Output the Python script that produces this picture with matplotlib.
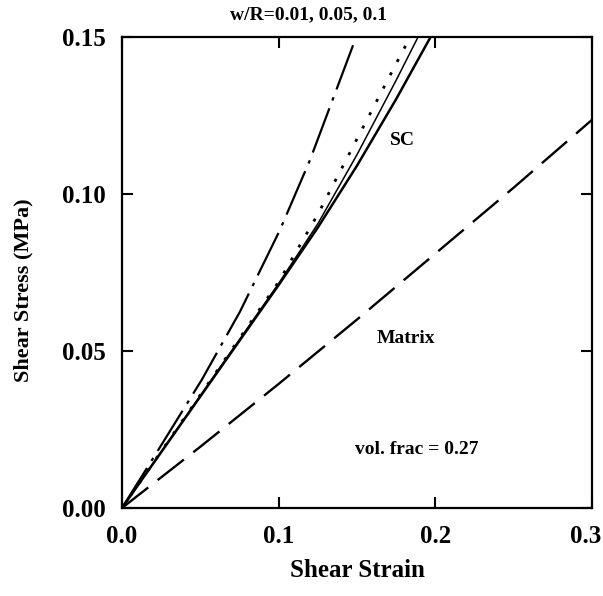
import matplotlib
matplotlib.use("Agg")
import matplotlib.pyplot as plt
from matplotlib.transforms import ScaledTranslation

plt.rcParams['font.family'] = ['Liberation Serif', 'DejaVu Serif']
plt.rcParams['font.weight'] = 'bold'
plt.rcParams['lines.scale_dashes'] = False

# ---- data ----
dashdot_x = [0, 0.0232, 0.0509, 0.0753, 0.1008, 0.12, 0.1495]
dashdot_y = [0, 0.0185, 0.0408, 0.0625, 0.0885, 0.1108, 0.150]

dotted_x = [0, 0.05, 0.1, 0.125, 0.15, 0.175, 0.184]
dotted_y = [0, 0.036, 0.072, 0.0935, 0.1175, 0.1415, 0.150]

thin_x = [0, 0.05, 0.1, 0.125, 0.15, 0.175, 0.189]
thin_y = [0, 0.0358, 0.0715, 0.0905, 0.1125, 0.1362, 0.150]

thick_x = [0, 0.05, 0.1, 0.125, 0.15, 0.175, 0.197]
thick_y = [0, 0.0355, 0.0710, 0.0893, 0.1090, 0.1302, 0.150]

matrix_x = [0, 0.05, 0.1, 0.15, 0.2, 0.25, 0.3]
matrix_y = [0, 0.0195, 0.0395, 0.060, 0.0810, 0.102, 0.1236]

x_ticks = [0.0, 0.1, 0.2, 0.3]
x_ticklabels = ["0.0", "0.1", "0.2", "0.3"]
y_ticks = [0.00, 0.05, 0.10, 0.15]
y_ticklabels = ["0.00", "0.05", "0.10", "0.15"]

fig = plt.figure(figsize=(6.03, 5.96), dpi=100)
ax = fig.add_axes([0.2023, 0.1477, 0.7794, 0.7903])

ax.plot(dashdot_x, dashdot_y, color='black', lw=1.6, dashes=(34, 6, 2.5, 6))
ax.plot(dotted_x, dotted_y, color='black', lw=2.0, dashes=(2.2, 8.6))
ax.plot(thin_x, thin_y, color='black', lw=1.1)
ax.plot(thick_x, thick_y, color='black', lw=1.8)
ax.plot(matrix_x, matrix_y, color='black', lw=1.7, dashes=(24, 8.6))

ax.set_xlim(0, 0.3)
ax.set_ylim(0, 0.15)
ax.set_xticks(x_ticks)
ax.set_xticklabels(x_ticklabels)
ax.set_yticks(y_ticks)
ax.set_yticklabels(y_ticklabels)
ax.tick_params(direction='in', length=8, width=1.5, top=True, right=True,
               labelsize=18, pad=12)
for lab in ax.get_xticklabels() + ax.get_yticklabels():
    lab.set_fontweight('bold')
# keep the last x tick label inside the figure
last = ax.get_xticklabels()[-1]
last.set_transform(last.get_transform() + ScaledTranslation(-6 / 100, 0, fig.dpi_scale_trans))
for s in ax.spines.values():
    s.set_linewidth(1.6)

ax.set_xlabel("Shear Strain", fontsize=18, fontweight='bold', labelpad=8)
ax.set_ylabel("Shear Stress (MPa)", fontsize=16, fontweight='bold')
ax.yaxis.set_label_coords(-0.189, 0.463)

ax.text(0.119, 0.157, "w/R=0.01, 0.05, 0.1", fontsize=14, fontweight='bold',
        ha='center', va='center', clip_on=False)
ax.text(0.179, 0.117, "SC", fontsize=14, fontweight='bold', ha='center', va='center')
ax.text(0.181, 0.054, "Matrix", fontsize=14, fontweight='bold', ha='center', va='center')
ax.text(0.188, 0.0185, "vol. frac = 0.27", fontsize=14, fontweight='bold',
        ha='center', va='center')

fig.savefig("out.png", dpi=100)
